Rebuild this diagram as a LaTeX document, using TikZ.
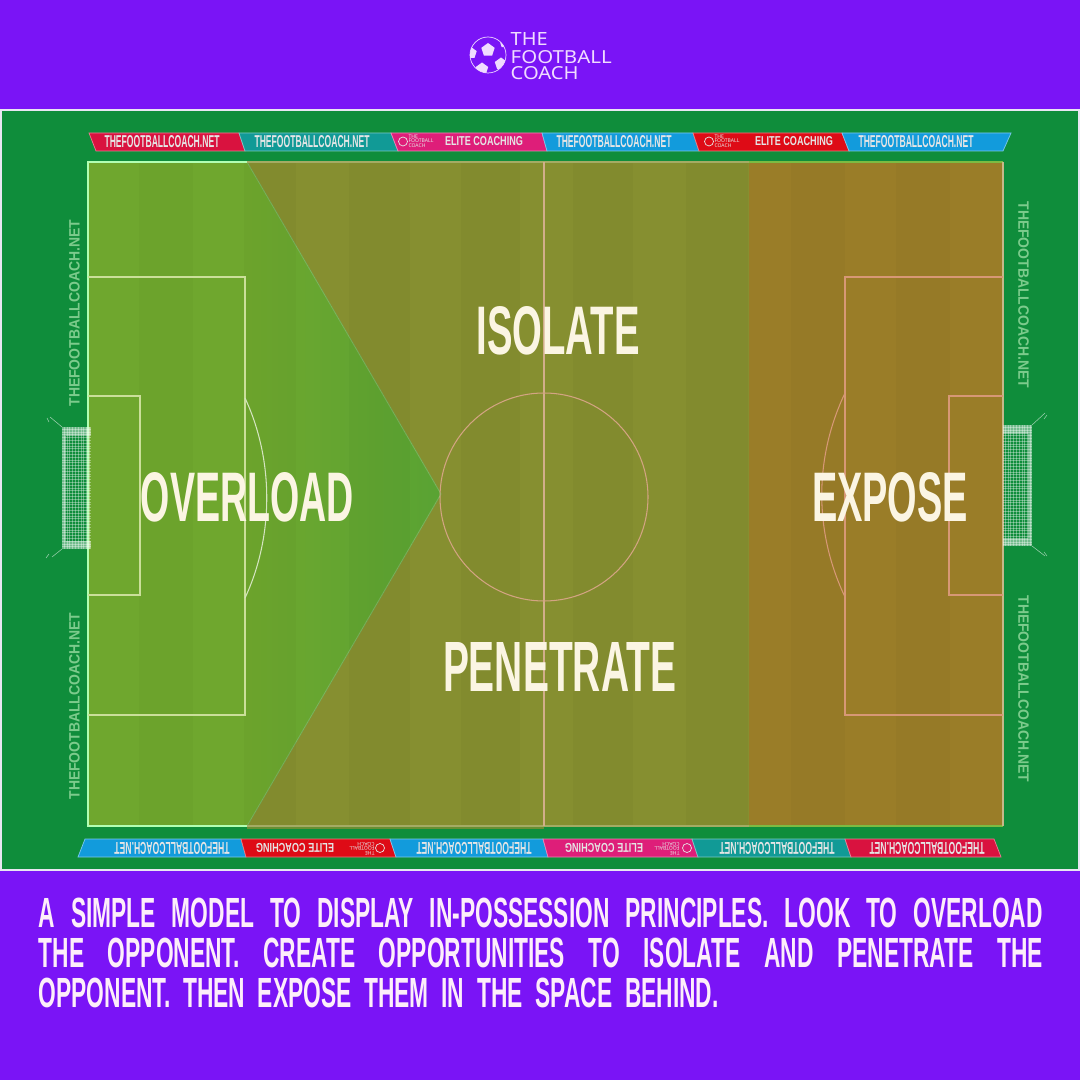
\documentclass[tikz,border=0pt]{standalone}
\usepackage{graphicx}
\usepackage{fontspec}
\setmainfont{Liberation Sans}
\newfontfamily\capfont[FakeStretch=0.6]{Liberation Sans}
\newfontfamily\bodyfont[FakeStretch=0.54]{Liberation Sans}
\newfontfamily\logofont{Noto Sans}
\usetikzlibrary{shapes.geometric, calc}
\definecolor{fcPurple}{HTML}{7A14F6}
\definecolor{fcGrass}{HTML}{0F8D3B}
\definecolor{fcFrame}{HTML}{E9E6F2}
\definecolor{fcLeft}{HTML}{6FA72E}
\definecolor{fcTip}{HTML}{59A333}
\definecolor{fcMid}{HTML}{868F30}
\definecolor{fcRight}{HTML}{9A7D28}
\definecolor{fcCream}{HTML}{FBF5E3}
\definecolor{fcBody}{HTML}{FDEEFA}
\definecolor{fcSide}{HTML}{7CCB8C}
\definecolor{fcLogo}{HTML}{F0DCFF}
\definecolor{bnCrimson}{HTML}{D9123F}
\definecolor{bnTeal}{HTML}{119A96}
\definecolor{bnPink}{HTML}{DE1E79}
\definecolor{bnBlue}{HTML}{129BDC}
\definecolor{bnRed}{HTML}{DE0B16}
\newlength\pxu
\setlength\pxu{0.01cm}
\newcommand{\fitbox}[3]{\resizebox{#1\pxu}{#2\pxu}{#3}}
\newcommand{\netname}{\fitbox{115}{12}{\capfont\bfseries THEFOOTBALLCOACH.NET}}
\newcommand{\elitename}{\fitbox{78}{9}{\capfont\bfseries ELITE COACHING}}
\newcommand{\minilogo}{\fitbox{25}{9}{\begin{tabular}{@{}l@{}}\logofont THE\\[-3pt]\logofont FOOTBALL\\[-3pt]\logofont COACH\end{tabular}}}
\newcommand{\sidename}{\fitbox{187}{10.5}{\bfseries THEFOOTBALLCOACH.NET}}
\newcommand{\bodyline}[2]{\makebox[#1\pxu][s]{\bodyfont\bfseries\fontsize{12}{14}\selectfont #2}}
\tikzset{
  frameline/.style  = {fcFrame, line width=0.6pt},
  pitchline/.style  = {line width=0.3pt},
  biglbl/.style     = {fcCream, inner sep=0pt, font=\capfont\bfseries},
  bodylbl/.style    = {fcBody, inner sep=0pt, anchor=west},
  sidelbl/.style    = {fcSide, inner sep=0pt},
  bannertxt/.style  = {inner sep=0pt, white!90!black},
  logolbl/.style    = {fcLogo, inner sep=0pt, anchor=west, font=\bfseries},
  netline/.style    = {white, opacity=0.35, line width=0.1pt},
  netband/.style    = {white, opacity=0.42},
  stayline/.style   = {white, opacity=0.6, line width=0.15pt},
  balldot/.style    = {regular polygon, regular polygon sides=5, fill=fcLogo, inner sep=0pt, minimum size=#1},
}
\begin{document}
\begin{tikzpicture}[x=0.01cm, y=-0.01cm]
  \useasboundingbox (0,0) rectangle (1080,1080);
  \fill[fcPurple] (0,0) rectangle (1080,1080);
  % grass and frame
  \fill[fcGrass] (1,110) rectangle (1079,870);
  \draw[frameline] (1,110) rectangle (1079,870);
  % logo
  \draw[fcLogo, line width=0.2pt] (488,55) circle [radius=18];
  \begin{scope}
    \clip (488,55) circle [radius=18];
    \foreach \x/\y/\s [count=\i] in {488/50/14pt, 482/69/13pt, 501/64/13pt, 471/53/12pt, 504/44/8pt}
      \node[balldot=\s*0.2845] (ballspot\i) at (\x,\y) {};
  \end{scope}
  \node[logolbl] (logoA) at (510,39) {\fitbox{37}{13}{\logofont THE}};
  \node[logolbl] (logoB) at (510,57) {\fitbox{101}{13}{\logofont FOOTBALL}};
  \node[logolbl] (logoC) at (510,73.5) {\fitbox{68}{13}{\logofont COACH}};
  % top boards
  \foreach \a/\b/\c/\d/\col in {89/239/245/96/bnCrimson, 239/391/398/245/bnTeal, 391/542/547/398/bnPink,
      542/693/699/547/bnBlue, 693/842/849/699/bnRed, 842/1011/1003/849/bnBlue}
    \draw[\col!55!white, fill=\col, line width=0.2pt] (\a,133) -- (\b,133) -- (\c,151) -- (\d,151) -- cycle;
  \foreach \x/\lbl [count=\i] in {162/\netname, 312/\netname, 484/\elitename, 614/\netname, 794/\elitename, 916/\netname}
    \node[bannertxt] (boardtop\i) at (\x,141.5) {\lbl};
  \foreach \x/\dx [count=\i] in {421/403, 727/709}{
    \node[bannertxt] (minitop\i) at (\x,141.5) {\minilogo};
    \draw[white!90!black, line width=0.2pt] (\dx,141.5) circle [radius=4.5];
  }
  % bottom boards
  \foreach \a/\b/\c/\d/\col in {85/241/246/78/bnBlue, 241/390/396/246/bnRed, 390/543/548/396/bnBlue,
      543/692/698/548/bnPink, 692/845/851/698/bnTeal, 845/994/1001/851/bnCrimson}
    \draw[\col!55!white, fill=\col, line width=0.2pt] (\a,839) -- (\b,839) -- (\c,857) -- (\d,857) -- cycle;
  \foreach \x/\lbl [count=\i] in {172/\netname, 295/\elitename, 474/\netname, 604/\elitename, 777/\netname, 927/\netname}
    \node[bannertxt, rotate=180] (boardbot\i) at (\x,848) {\lbl};
  \foreach \x/\dx [count=\i] in {362/380, 667/687}{
    \node[bannertxt, rotate=180] (minibot\i) at (\x,848) {\minilogo};
    \draw[white!90!black, line width=0.2pt] (\dx,848) circle [radius=4.5];
  }
  % side boards
  \node[sidelbl, rotate=90] (sideA) at (74.5,313) {\sidename};
  \node[sidelbl, rotate=90] (sideB) at (74.5,706) {\sidename};
  \node[sidelbl, rotate=-90] (sideC) at (1023.5,295) {\sidename};
  \node[sidelbl, rotate=-90] (sideD) at (1023.5,689) {\sidename};
  % zones
  \fill[fcLeft] (88,162) rectangle (247,826);
  \fill[fcMid] (247,162) rectangle (749,826);
  \fill[fcRight] (749,162) rectangle (1003,826);
  \fill[fcMid!75!fcGrass] (247,826) rectangle (544,829);
  \fill[left color=fcLeft, right color=fcTip] (247,162) -- (441,494) -- (247,826) -- cycle;
  \draw[fcTip!80!white, line width=0.25pt] (247,162) -- (441,494) -- (247,826);
  % mowing strips
  \foreach \a/\b in {139/193, 244/296, 349/410, 461/520, 573/633, 686/748, 791/845, 896/950}
    \fill[black, opacity=0.025] (\a,162) rectangle (\b,826);
  % markings
  \draw[pitchline, green!30!white] (247,162) -- (88,162) -- (88,826) -- (247,826);
  \draw[pitchline, white!25!fcMid] (247,162) -- (749,162) (247,826) -- (749,826);
  \draw[pitchline, white!25!fcRight!70!green] (749,162) -- (1003,162) (749,826) -- (1003,826);
  \draw[pitchline, line width=0.5pt, white!45!fcRight] (1003,162) -- (1003,826);
  \draw[pitchline, white!60!fcLeft!90!yellow] (88,277) -- (245,277) -- (245,715) -- (88,715);
  \draw[pitchline, white!60!fcLeft!90!yellow] (88,396) -- (140,396) -- (140,595) -- (88,595);
  \draw[pitchline, white!70!fcLeft] (245,398) .. controls (274,460) and (274,536) .. (245,598);
  \draw[pitchline, white!55!fcMid!85!red] (544,162) -- (544,826);
  \draw[pitchline, white!55!fcMid!80!red] (544,497) circle [radius=104];
  \draw[pitchline, white!50!fcRight!80!red] (1003,277) -- (845,277) -- (845,715) -- (1003,715);
  \draw[pitchline, white!50!fcRight!80!red] (1003,396) -- (949,396) -- (949,595) -- (1003,595);
  \draw[pitchline, white!50!fcRight!80!red] (845,393) .. controls (814,458) and (814,532) .. (845,597);
  % goals
  \begin{scope}
    \foreach \x in {64,66.8,...,90} \draw[netline] (\x,427) -- (\x,549);
    \foreach \y in {429,431.8,...,548} \draw[netline] (62,\y) -- (91,\y);
    \fill[netband] (62,427) rectangle (91,436);
    \fill[netband] (62,541) rectangle (91,549);
    \fill[netband] (62,436) rectangle (66,541);
    \draw[stayline] (62,427) -- (50,417) (62,549) -- (52,557);
    \draw[stayline] (47,418) -- (49,422) (46,558) -- (49,554);
  \end{scope}
  \begin{scope}
    \foreach \x in {1005,1007.8,...,1032} \draw[netline] (\x,425) -- (\x,546);
    \foreach \y in {427,429.8,...,546} \draw[netline] (1003,\y) -- (1032,\y);
    \fill[netband] (1003,425) rectangle (1032,434);
    \fill[netband] (1003,538) rectangle (1032,546);
    \fill[netband] (1028,434) rectangle (1032,538);
    \draw[stayline] (1032,425) -- (1045,413) (1032,546) -- (1045,556);
    \draw[stayline] (1047,415) -- (1044,419) (1047,556) -- (1044,552);
  \end{scope}
  % principles
  \node[biglbl] (isolateLbl) at (558,331) {\fitbox{163}{48}{ISOLATE}};
  \node[biglbl] (overloadLbl) at (247.5,497) {\fitbox{213}{49}{OVERLOAD}};
  \node[biglbl] (penetrateLbl) at (559.5,667) {\fitbox{233}{49}{PENETRATE}};
  \node[biglbl] (exposeLbl) at (890,497) {\fitbox{156}{49}{EXPOSE}};
  % caption
  \node[bodylbl] (captionA) at (38,912.5) {\bodyline{1004}{A SIMPLE MODEL TO DISPLAY IN-POSSESSION PRINCIPLES. LOOK TO OVERLOAD}};
  \node[bodylbl] (captionB) at (38,952.5) {\bodyline{1004}{THE OPPONENT. CREATE OPPORTUNITIES TO ISOLATE AND PENETRATE THE}};
  \node[bodylbl] (captionC) at (38,993) {\bodyline{680}{OPPONENT. THEN EXPOSE THEM IN THE SPACE BEHIND.}};
\end{tikzpicture}
\end{document}
